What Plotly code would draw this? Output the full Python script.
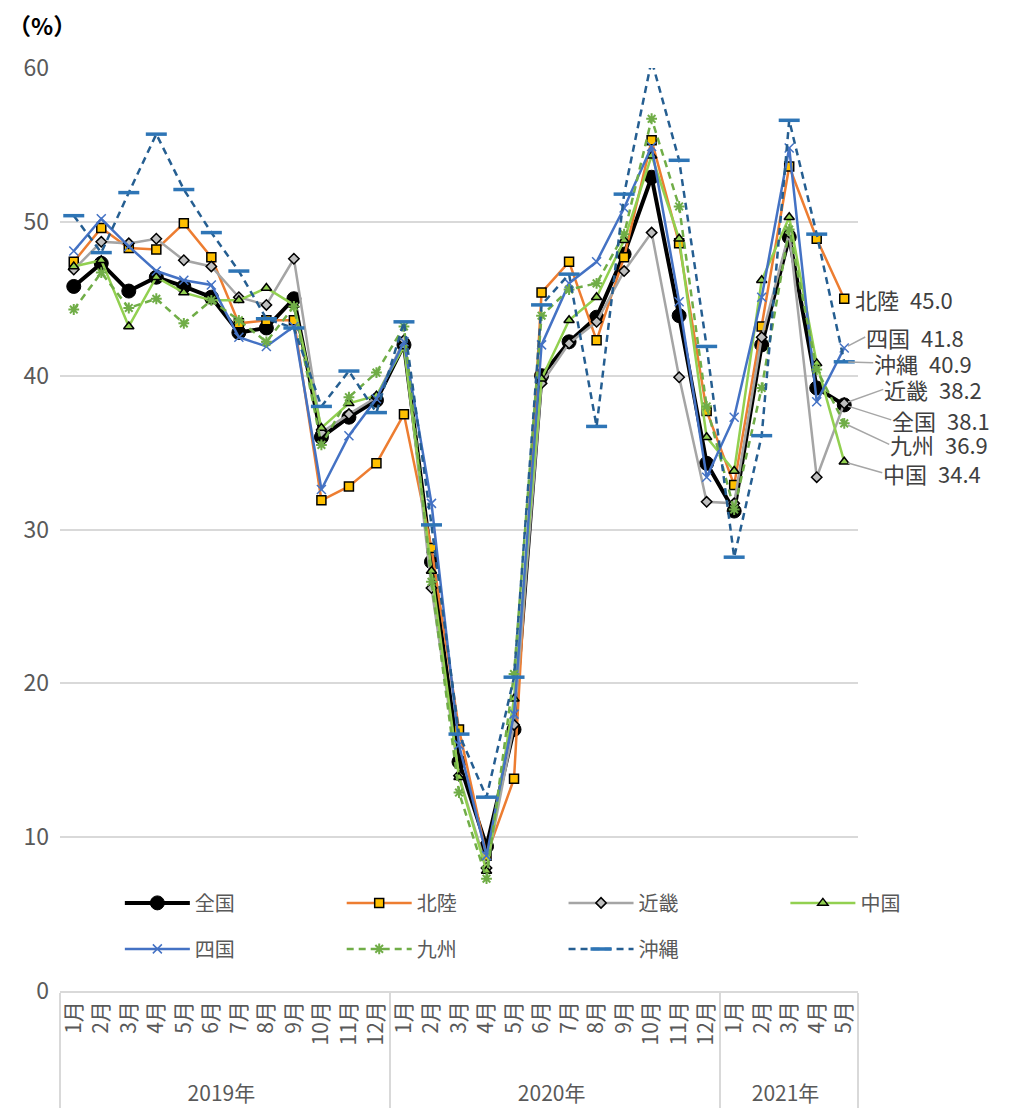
import plotly.graph_objects as go

# ---- data ----
years = ["2019年"] * 12 + ["2020年"] * 12 + ["2021年"] * 5
months = [f"{m}月" for m in range(1, 13)] + [f"{m}月" for m in range(1, 13)] + [f"{m}月" for m in range(1, 6)]

zenkoku = [45.8, 47.3, 45.5, 46.4, 45.8, 45.1, 42.8, 43.1, 45.0, 36.0, 37.3, 38.4,
           42.0, 27.9, 14.9, 9.4, 17.0, 40.0, 42.2, 43.8, 47.9, 52.9, 43.9, 34.3,
           31.2, 42.0, 49.0, 39.2, 38.1]
hokuriku = [47.4, 49.6, 48.3, 48.2, 49.9, 47.7, 43.4, 43.6, 43.6, 31.9, 32.8, 34.3,
            37.5, 28.8, 17.0, 8.8, 13.8, 45.4, 47.4, 42.3, 47.7, 55.3, 48.6, 37.7,
            32.9, 43.2, 53.6, 48.9, 45.0]
kinki = [46.9, 48.7, 48.6, 48.9, 47.5, 47.1, 45.1, 44.6, 47.6, 36.3, 37.5, 38.6,
         42.3, 26.2, 14.0, 8.0, 17.3, 39.5, 42.1, 43.5, 46.8, 49.3, 39.9, 31.8,
         31.7, 42.5, 49.3, 33.4, 38.2]
chugoku = [47.1, 47.5, 43.2, 46.4, 45.4, 44.9, 44.9, 45.7, 44.6, 36.6, 38.2, 38.7,
           41.9, 27.3, 13.9, 7.8, 19.0, 39.8, 43.6, 45.1, 48.8, 54.3, 48.9, 36.0,
           33.8, 46.2, 50.3, 40.8, 34.4]
shikoku = [48.1, 50.2, 48.4, 46.8, 46.2, 45.9, 42.5, 41.9, 43.2, 32.6, 36.1, 38.5,
           42.2, 31.7, 16.0, 8.8, 18.0, 42.0, 46.0, 47.4, 50.9, 54.9, 44.8, 33.4,
           37.3, 45.1, 54.8, 38.3, 41.8]
kyushu = [44.3, 46.7, 44.4, 45.0, 43.4, 44.9, 43.6, 42.2, 44.5, 35.5, 38.6, 40.2,
          43.2, 26.6, 12.9, 7.3, 20.6, 43.9, 45.6, 46.0, 49.2, 56.7, 51.0, 38.0,
          31.3, 39.2, 49.5, 40.4, 36.9]
okinawa = [50.4, 48.0, 51.9, 55.7, 52.1, 49.3, 46.8, 43.7, 43.1, 38.0, 40.3, 37.6,
           43.5, 30.3, 16.7, 12.6, 20.4, 44.6, 46.6, 36.7, 51.8, 60.5, 54.0, 41.9,
           28.2, 36.1, 56.6, 49.2, 40.9]

y_ticks = [0, 10, 20, 30, 40, 50, 60]

FONT = "Noto Sans CJK JP"
GRAY_TXT = "#595959"

# leading spaces only pad the rotated tick text downward (pushes the year row lower)
month_display = ["\u2002\u2005" + m for m in months]

series = [
    dict(name="全国", y=zenkoku, color="#000000", width=4, dash="solid",
         marker=dict(symbol="circle", size=14, color="#000000", line=dict(color="#000000", width=1)),
         legend="legend"),
    dict(name="北陸", y=hokuriku, color="#ED7D31", width=2.5, dash="solid",
         marker=dict(symbol="square", size=9, color="#FFC000", line=dict(color="#000000", width=1.5)),
         legend="legend2"),
    dict(name="近畿", y=kinki, color="#A5A5A5", width=2.5, dash="solid",
         marker=dict(symbol="diamond", size=8, color="#BFBFBF", line=dict(color="#000000", width=1.5)),
         legend="legend3"),
    dict(name="中国", y=chugoku, color="#92D050", width=2.5, dash="solid",
         marker=dict(symbol="triangle-up", size=9, color="#92D050", line=dict(color="#000000", width=1.5)),
         legend="legend4"),
    dict(name="四国", y=shikoku, color="#4472C4", width=2.5, dash="solid",
         marker=dict(symbol="x-thin", size=9, color="#4472C4", line=dict(color="#4472C4", width=1.5)),
         legend="legend"),
    dict(name="九州", y=kyushu, color="#70AD47", width=2.5, dash="7px,5px",
         marker=dict(symbol="asterisk", size=9, color="#70AD47", line=dict(color="#70AD47", width=2)),
         legend="legend2"),
    dict(name="沖縄", y=okinawa, color="#255E91", width=2.5, dash="7px,5px",
         marker=dict(symbol="line-ew-open", size=15, color="#2E75B6", line=dict(color="#2E75B6", width=3.5)),
         legend="legend3"),
]

fig = go.Figure()
for s in series:
    fig.add_trace(go.Scatter(
        x=[years, month_display], y=s["y"], name=s["name"], mode="lines+markers",
        line=dict(color=s["color"], width=s["width"], dash=s["dash"]),
        marker=s["marker"], legend=s["legend"], legendgroup=s["name"],
    ))

# end-of-line labels
n = len(months)
x_last = (n - 1 + 0.5) / n
label_specs = [
    ("北陸", hokuriku[-1], 0, 0, False),
    ("四国", shikoku[-1], 21, -11, True),
    ("沖縄", okinawa[-1], 29, 1, True),
    ("近畿", kinki[-1], 39, -14, True),
    ("全国", zenkoku[-1], 47, 15, True),
    ("九州", kyushu[-1], 45, 21, True),
    ("中国", chugoku[-1], 38, 11, True),
]
for name, val, ax, ay, arrow in label_specs:
    txt = f"{name}\u2002{val:.1f}"
    if arrow:
        fig.add_annotation(xref="paper", yref="y", x=x_last, y=val, text=txt,
                           showarrow=True, axref="pixel", ayref="pixel", ax=ax, ay=ay,
                           arrowhead=0, arrowwidth=1.5, arrowcolor="#A6A6A6", standoff=4,
                           xanchor="left", yanchor="middle", borderpad=0,
                           font=dict(family=FONT, size=22, color="#404040"))
    else:
        fig.add_annotation(xref="paper", yref="y", x=x_last, y=val, text=txt,
                           showarrow=False, xanchor="left", yanchor="middle", xshift=10,
                           borderpad=0,
                           font=dict(family=FONT, size=22, color="#404040"))

fig.add_annotation(xref="paper", yref="paper", x=-0.068, y=1.0466, text="<b>（%）</b>",
                   showarrow=False, xanchor="left", yanchor="middle",
                   font=dict(family=FONT, size=23, color="#000000"))

leg_common = dict(orientation="v", yanchor="top", y=0.1166, bgcolor="rgba(0,0,0,0)",
                  font=dict(family=FONT, size=20, color=GRAY_TXT), itemwidth=65,
                  tracegroupgap=17, xanchor="left")
fig.update_layout(
    width=1003, height=1100,
    margin=dict(l=52, r=153, t=60, b=117),
    plot_bgcolor="white", paper_bgcolor="white",
    font=dict(family=FONT, color=GRAY_TXT),
    legend=dict(x=0.075, **leg_common),
    legend2=dict(x=0.353, **leg_common),
    legend3=dict(x=0.631, **leg_common),
    legend4=dict(x=0.909, **leg_common),
    xaxis=dict(type="multicategory", range=[-0.5, n - 0.5], showgrid=False,
               showline=True, linecolor="#D9D9D9", linewidth=1.5,
               showdividers=True, dividercolor="#D9D9D9", dividerwidth=1.5,
               tickangle=-90, tickfont=dict(family=FONT, size=21, color=GRAY_TXT),
               ticks="", automargin=False),
    yaxis=dict(range=[0, 60], tickvals=y_ticks, showgrid=True, gridcolor="#D9D9D9",
               gridwidth=1.5, zeroline=False, ticks="", ticklabelstandoff=10,
               tickfont=dict(family=FONT, size=23, color=GRAY_TXT)),
)

fig.write_html("out.html")
